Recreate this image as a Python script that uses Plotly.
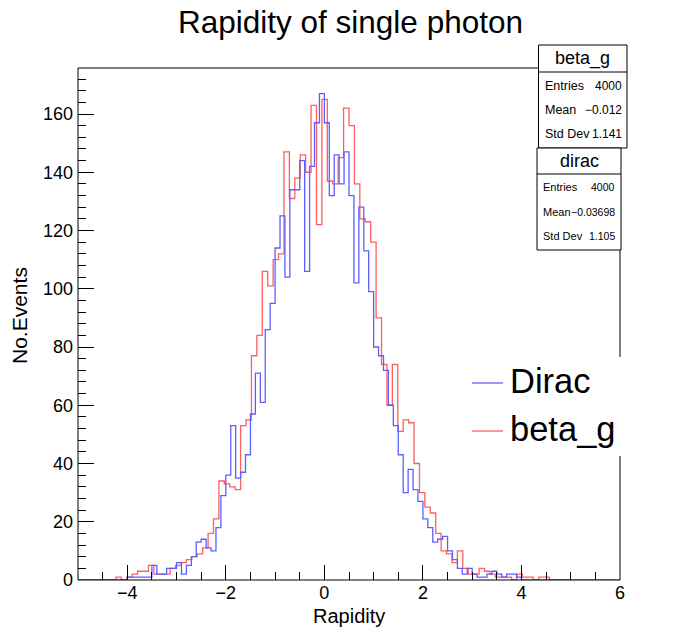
import numpy as np
import plotly.graph_objects as go

# ---------------- data ----------------
# beta_g : 100 bins from -5 to 6
beta_g_range = (-5.0, 6.0)
beta_g_counts = [
    0, 0, 0, 0, 0, 0, 0, 1, 0, 1,
    2, 3, 3, 5, 2, 2, 2, 4, 5, 6,
    7, 8, 9, 11, 16, 21, 34, 33, 32, 31,
    53, 55, 77, 84, 106, 101, 110, 112, 147, 131,
    138, 146, 140, 163, 122, 165, 137, 136, 145, 162,
    156, 136, 124, 123, 116, 90, 74, 60, 74, 51,
    55, 54, 40, 30, 25, 23, 16, 10, 9, 6,
    10, 4, 2, 2, 4, 3, 2, 1, 1, 1,
    0, 2, 1, 1, 0, 1, 1, 0, 0, 0,
    0, 0, 0, 0, 0, 0, 0, 0, 0, 0,
]
# dirac : 100 bins from -5 to 5
dirac_range = (-5.0, 5.0)
dirac_counts = [
    0, 0, 0, 0, 0, 0, 0, 0, 0, 0,
    1, 1, 1, 1, 1, 5, 2, 2, 4, 4,
    6, 2, 5, 8, 13, 14, 11, 10, 18, 29,
    36, 53, 35, 37, 43, 57, 71, 61, 86, 95,
    114, 125, 104, 134, 134, 144, 106, 142, 157, 167,
    157, 132, 146, 136, 147, 132, 102, 128, 113, 99,
    80, 77, 72, 60, 53, 43, 30, 38, 31, 27,
    21, 18, 13, 14, 15, 10, 7, 4, 2, 4,
    2, 1, 1, 2, 3, 2, 1, 2, 2, 1,
    0, 0, 0, 0, 0, 0, 0, 0, 0, 0,
]

stats_beta_g = [("Entries", "4000"), ("Mean", "\u22120.012"), ("Std Dev", "1.141")]
stats_dirac = [("Entries", "4000"), ("Mean", "\u22120.03698"), ("Std Dev", "1.105")]

x_tick_vals = [-4, -2, 0, 2, 4, 6]
y_tick_vals = [0, 20, 40, 60, 80, 100, 120, 140, 160]

BLUE = "rgb(95,95,255)"
RED = "rgb(255,95,95)"
FONT = "Liberation Sans, Arial, Helvetica, sans-serif"


def step_xy(counts, lo, hi):
    n = len(counts)
    edges = np.linspace(lo, hi, n + 1)
    xs = [edges[0]]
    ys = [0]
    for i, c in enumerate(counts):
        xs += [edges[i], edges[i + 1]]
        ys += [c, c]
    xs.append(edges[-1])
    ys.append(0)
    return xs, ys


W, H = 681, 627
L, R, T, B = 78, 620, 68, 580


def px(xp):
    return (xp - L) / (R - L)


def py(yp):
    return (B - yp) / (B - T)


fig = go.Figure()
bx, by = step_xy(beta_g_counts, *beta_g_range)
fig.add_trace(go.Scatter(x=bx, y=by, mode="lines", line=dict(color=RED, width=1.3),
                         name="beta_g", showlegend=False, hoverinfo="skip"))
dx, dy = step_xy(dirac_counts, *dirac_range)
fig.add_trace(go.Scatter(x=dx, y=dy, mode="lines", line=dict(color=BLUE, width=1.3),
                         name="Dirac", showlegend=False, hoverinfo="skip"))

shapes = []
annotations = []
# frame
shapes.append(dict(type="rect", xref="paper", yref="paper", x0=0, x1=1, y0=0, y1=1,
                   line=dict(color="black", width=1), layer="above"))

# legend (white box, no border)
shapes.append(dict(type="rect", xref="paper", yref="paper", x0=px(462), x1=px(626),
                   y0=py(456), y1=py(357), fillcolor="white", line=dict(width=0), layer="above"))
for yl, col, txt in [(383, BLUE, "Dirac"), (431, RED, "beta_g")]:
    shapes.append(dict(type="line", xref="paper", yref="paper", x0=px(472), x1=px(503),
                       y0=py(yl), y1=py(yl), line=dict(color=col, width=1.3), layer="above"))
    annotations.append(dict(text=txt, xref="paper", yref="paper", x=px(508), y=py(yl - 2),
                            xanchor="left", yanchor="middle", showarrow=False,
                            font=dict(family=FONT, size=34.5, color="black")))


def stats_box(x0, x1, y0, ysep, y1, name, rows, hsize, lsize, vsize, rowy, labx, valx):
    shapes.append(dict(type="rect", xref="paper", yref="paper", x0=px(x0), x1=px(x1),
                       y0=py(y1), y1=py(y0), fillcolor="white",
                       line=dict(color="black", width=1), layer="above"))
    shapes.append(dict(type="line", xref="paper", yref="paper", x0=px(x0), x1=px(x1),
                       y0=py(ysep), y1=py(ysep), line=dict(color="black", width=1), layer="above"))
    annotations.append(dict(text=name, xref="paper", yref="paper", x=px((x0 + x1) / 2),
                            y=py((y0 + ysep) / 2), xanchor="center", yanchor="middle",
                            showarrow=False, font=dict(family=FONT, size=hsize, color="black")))
    for (lab, val), yy in zip(rows, rowy):
        annotations.append(dict(text=lab, xref="paper", yref="paper", x=px(labx), y=py(yy),
                                xanchor="left", yanchor="middle", showarrow=False,
                                font=dict(family=FONT, size=lsize, color="black")))
        annotations.append(dict(text=val, xref="paper", yref="paper", x=px(valx), y=py(yy),
                                xanchor="right", yanchor="middle", showarrow=False,
                                font=dict(family=FONT, size=vsize, color="black")))


stats_box(538.5, 627, 45, 72, 148, "beta_g", stats_beta_g, 18, 12.5, 12, [86, 110, 134], 543, 624)
stats_box(537, 621, 148, 174, 250, "dirac", stats_dirac, 18, 11, 10.5, [187, 212, 236], 541, 617)

# axis titles
annotations.append(dict(text="Rapidity", xref="paper", yref="paper", x=px(349), y=py(616),
                        xanchor="center", yanchor="middle", showarrow=False,
                        font=dict(family=FONT, size=20, color="black")))
annotations.append(dict(text="No.Events", xref="paper", yref="paper", x=px(19), y=py(316),
                        xanchor="center", yanchor="middle", showarrow=False, textangle=-90,
                        font=dict(family=FONT, size=21, color="black")))

fig.update_layout(
    width=W, height=H, autosize=False,
    margin=dict(l=L, r=W - R, t=T, b=H - B, pad=0),
    paper_bgcolor="white", plot_bgcolor="white",
    title=dict(text="Rapidity of single photon", x=px(350.5), xref="paper", xanchor="center",
               y=1 - 22 / H, yref="container", yanchor="middle",
               font=dict(family=FONT, size=31.5, color="black")),
    shapes=shapes, annotations=annotations, showlegend=False,
    font=dict(family=FONT, color="black"),
)
fig.update_xaxes(range=[-5, 6], tickmode="array", tickvals=x_tick_vals,
                 ticktext=[("\u2212" + str(-v)) if v < 0 else str(v) for v in x_tick_vals],
                 ticks="inside", ticklen=15, tickwidth=1, tickcolor="black",
                 minor=dict(ticks="inside", ticklen=8, tickwidth=1, tickcolor="black",
                            tickmode="linear", tick0=0, dtick=0.5, showgrid=False),
                 showgrid=False, zeroline=False, showline=False,
                 tickfont=dict(family=FONT, size=18, color="black"))
fig.update_yaxes(range=[0, 175.8], tickmode="array", tickvals=y_tick_vals,
                 ticks="inside", ticklen=16, tickwidth=1, tickcolor="black",
                 minor=dict(ticks="inside", ticklen=8, tickwidth=1, tickcolor="black",
                            tickmode="linear", tick0=0, dtick=4, showgrid=False),
                 showgrid=False, zeroline=False, showline=False,
                 ticklabelstandoff=4,
                 tickfont=dict(family=FONT, size=18, color="black"))

fig.write_html("out.html", config={"displayModeBar": False},
               post_script="document.body.style.margin='0px';document.body.style.padding='0px';")
